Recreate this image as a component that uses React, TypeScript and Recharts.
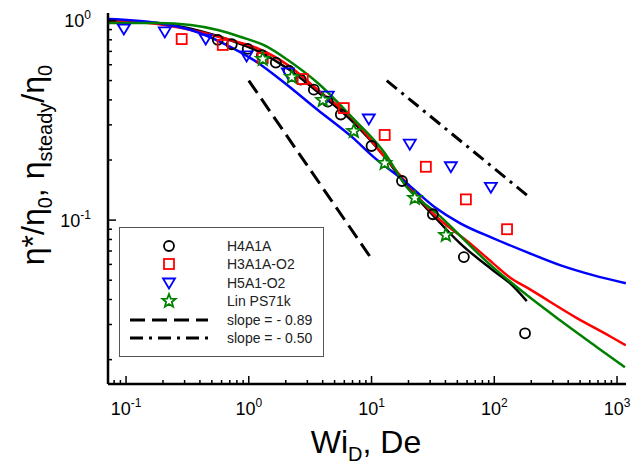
import React from 'react';
import { ComposedChart, Line, Scatter, XAxis, YAxis, Legend } from 'recharts';

// ---------- axis ticks ----------
const xMajorTicks = [0.1, 1, 10, 100, 1000];
const xMajorExponents = ['-1', '0', '1', '2', '3'];
const xMinorTicks = [0.08, 0.09, 0.2, 0.3, 0.4, 0.5, 0.6, 0.7, 0.8, 0.9, 2, 3, 4, 5, 6, 7, 8, 9, 20, 30, 40, 50, 60, 70, 80, 90, 200, 300, 400, 500, 600, 700, 800, 900];
const yMajorTicks = [0.1, 1];
const yMajorExponents = ['-1', '0'];
const yMinorTicks = [0.02, 0.03, 0.04, 0.05, 0.06, 0.07, 0.08, 0.09, 0.2, 0.3, 0.4, 0.5, 0.6, 0.7, 0.8, 0.9];

// ---------- symbols (experimental data) ----------
const h4a1aWi = [0.559, 0.727, 0.98, 1.28, 1.66, 2.12, 2.65, 3.39, 4.4, 5.62, 10.0, 17.7, 31.6, 56.5, 178];
const h4a1aEta = [0.8, 0.76, 0.72, 0.67, 0.615, 0.56, 0.505, 0.45, 0.392, 0.338, 0.235, 0.157, 0.107, 0.0653, 0.0271];

const h3a1aWi = [0.284, 0.614, 1.3, 2.75, 5.94, 12.8, 27.7, 58.7, 127];
const h3a1aEta = [0.807, 0.754, 0.649, 0.509, 0.364, 0.267, 0.185, 0.127, 0.09];

const h5a1Wi = [0.096, 0.207, 0.446, 0.96, 2.08, 4.4, 9.5, 20.5, 44.3, 93.8];
const h5a1Eta = [0.906, 0.876, 0.807, 0.664, 0.546, 0.418, 0.321, 0.24, 0.185, 0.146];

const linWi = [1.3, 2.24, 4.01, 7.17, 12.8, 22.5, 40.3];
const linEta = [0.641, 0.521, 0.399, 0.279, 0.193, 0.129, 0.0841];

// ---------- curves ----------
const blackCurveX = [0.071, 0.181, 0.399, 0.7, 1.23, 2.16, 3.65, 6.91, 12.8, 19.4, 31.6, 52.4, 97.4, 134, 184];
const blackCurveY = [0.994, 0.971, 0.886, 0.798, 0.695, 0.565, 0.438, 0.314, 0.207, 0.148, 0.106, 0.0767, 0.0561, 0.0483, 0.0393];

const redCurveX = [0.071, 0.181, 0.399, 0.614, 1.16, 2.08, 3.65, 6.91, 12.8, 19.4, 31.6, 63.2, 97.4, 134, 188, 471, 875, 1180];
const redCurveY = [1.006, 0.96, 0.876, 0.817, 0.728, 0.598, 0.449, 0.325, 0.207, 0.153, 0.108, 0.0767, 0.0609, 0.0516, 0.0456, 0.0323, 0.0262, 0.0236];

const blueCurveX = [0.071, 0.181, 0.337, 0.614, 1.16, 1.96, 3.65, 6.91, 10.6, 18.0, 32.8, 52.4, 97.4, 184, 343, 636, 1180];
const blueCurveY = [1.017, 0.971, 0.896, 0.771, 0.619, 0.486, 0.356, 0.261, 0.205, 0.159, 0.116, 0.0966, 0.0812, 0.0691, 0.0595, 0.053, 0.0483];

const greenCurveX = [0.071, 0.181, 0.337, 0.559, 0.861, 1.43, 2.08, 3.65, 6.91, 12.8, 19.4, 34.1, 97.4, 184, 343, 686, 1160];
const greenCurveY = [0.971, 0.971, 0.949, 0.896, 0.827, 0.736, 0.634, 0.486, 0.328, 0.217, 0.146, 0.108, 0.0581, 0.0421, 0.0315, 0.0231, 0.0183];

// ---------- guide slopes ----------
const slope089X = [1, 10];
const slope089Y = [0.5, 0.064];
const slope050X = [13.3, 185];
const slope050Y = [0.5, 0.133];

const legendLabels = ['H4A1A', 'H3A1A-O2', 'H5A1-O2', 'Lin PS71k', 'slope = - 0.89', 'slope = - 0.50'];

const zip = (xs: number[], ys: number[]) => xs.map((x, i) => ({ x, y: ys[i] }));

const FONT = '"Liberation Sans", Arial, Helvetica, sans-serif';
const W = 632;
const H = 467;
const PLOT = { left: 108, top: 13, right: 626, bottom: 384 };
const xDomain = [0.0713, 1183];
const yDomain = [0.0151, 1.09];

const xTicks = [...xMajorTicks, ...xMinorTicks].sort((a, b) => a - b);
const yTicks = [...yMajorTicks, ...yMinorTicks].sort((a, b) => a - b);

const BLACK = '#000000';
const RED = '#ff0000';
const BLUE = '#0000ff';
const GREEN = '#008000';

const BottomTick = (p: any) => {
  const v = p.payload.value;
  const i = xMajorTicks.indexOf(v);
  const len = i >= 0 ? 8 : 4;
  return (
    <g>
      <line x1={p.x} x2={p.x} y1={PLOT.bottom} y2={PLOT.bottom - len} stroke="#000" strokeWidth={1.5} />
      {i >= 0 && (
        <text x={p.x} y={PLOT.bottom + 31} textAnchor="middle" fontSize={18} fill="#000" fontFamily={FONT}>
          10<tspan dy={-8} fontSize={12}>{xMajorExponents[i]}</tspan>
        </text>
      )}
    </g>
  );
};

const TopTick = (p: any) => {
  const v = p.payload.value;
  const len = xMajorTicks.indexOf(v) >= 0 ? 8 : 4;
  return <line x1={p.x} x2={p.x} y1={PLOT.top} y2={PLOT.top + len} stroke="#000" strokeWidth={1.5} />;
};

const LeftTick = (p: any) => {
  const v = p.payload.value;
  const i = yMajorTicks.indexOf(v);
  const len = i >= 0 ? 8 : 4;
  return (
    <g>
      <line x1={PLOT.left} x2={PLOT.left + len} y1={p.y} y2={p.y} stroke="#000" strokeWidth={1.5} />
      {i >= 0 && (
        <text x={91} y={p.y + 7} textAnchor="end" fontSize={18} fill="#000" fontFamily={FONT}>
          10<tspan dy={-8} fontSize={12}>{yMajorExponents[i]}</tspan>
        </text>
      )}
    </g>
  );
};

const RightTick = (p: any) => {
  const v = p.payload.value;
  const len = yMajorTicks.indexOf(v) >= 0 ? 8 : 4;
  return <line x1={PLOT.right} x2={PLOT.right - len} y1={p.y} y2={p.y} stroke="#000" strokeWidth={1.5} />;
};

const starPath = (cx: number, cy: number, R: number, r: number) => {
  let d = '';
  for (let k = 0; k < 10; k++) {
    const ang = -Math.PI / 2 + (k * Math.PI) / 5;
    const rad = k % 2 === 0 ? R : r;
    d += (k === 0 ? 'M' : 'L') + (cx + rad * Math.cos(ang)).toFixed(2) + ',' + (cy + rad * Math.sin(ang)).toFixed(2);
  }
  return d + 'Z';
};

const CircleMark = (cx: number, cy: number) => <circle cx={cx} cy={cy} r={5} fill="none" stroke={BLACK} strokeWidth={1.8} />;
const SquareMark = (cx: number, cy: number) => <rect x={cx - 5} y={cy - 5} width={10} height={10} fill="none" stroke={RED} strokeWidth={1.8} />;
const TriMark = (cx: number, cy: number) => (
  <polygon points={`${cx - 6},${cy - 4.5} ${cx + 6},${cy - 4.5} ${cx},${cy + 5.5}`} fill="none" stroke={BLUE} strokeWidth={1.8} />
);
const StarMark = (cx: number, cy: number) => <path d={starPath(cx, cy, 7, 3)} fill="#fff" stroke={GREEN} strokeWidth={1.8} strokeLinejoin="miter" />;

const shapeOf = (fn: (cx: number, cy: number) => any) => (props: any) => fn(props.cx, props.cy);

const LegendBox = () => {
  const rows = [19, 37, 56, 74, 93, 111];
  const mx = 49;
  const tx = 107;
  return (
    <div style={{ width: 205, height: 130, border: '1px solid #555', boxSizing: 'border-box', background: '#fff' }}>
      <svg width={203} height={128} style={{ display: 'block' }}>
        {CircleMark(mx, rows[0] - 1)}
        {SquareMark(mx, rows[1] - 1)}
        {TriMark(mx, rows[2] - 1)}
        {StarMark(mx, rows[3] - 1)}
        <line x1={10} x2={88} y1={rows[4] - 1} y2={rows[4] - 1} stroke="#000" strokeWidth={3} strokeDasharray="15 7" />
        <line x1={10} x2={88} y1={rows[5] - 1} y2={rows[5] - 1} stroke="#000" strokeWidth={3} strokeDasharray="13 6 3 6" />
        {legendLabels.map((t, i) => (
          <text key={t} x={tx} y={rows[i] + 4} fontSize={14} fill="#222" fontFamily={FONT}>
            {t}
          </text>
        ))}
      </svg>
    </div>
  );
};

const YTitle = () => (
  <text
    transform={`translate(44, 165) rotate(-90)`}
    textAnchor="middle"
    fontSize={32}
    fill="#000"
    fontFamily={FONT}
  >
    η*/η<tspan dy={8} fontSize={20}>0</tspan>
    <tspan dy={-8}>, η</tspan>
    <tspan dy={8} fontSize={20}>steady</tspan>
    <tspan dy={-8}>/η</tspan>
    <tspan dy={8} fontSize={20}>0</tspan>
  </text>
);

const XTitle = () => (
  <text x={366} y={453} textAnchor="middle" fontSize={32} fill="#000" fontFamily={FONT}>
    Wi<tspan dy={8} fontSize={20}>D</tspan>
    <tspan dy={-8}>, De</tspan>
  </text>
);

export default function App() {
  return (
    <div style={{ position: 'absolute', left: 0, top: 0, width: W, height: H, background: '#fff' }}>
      <ComposedChart width={W} height={H} margin={{ top: 13, right: 6, left: 0, bottom: 0 }}>
        <XAxis
          xAxisId="b"
          type="number"
          dataKey="x"
          scale="log"
          domain={xDomain}
          allowDataOverflow
          ticks={xTicks}
          interval={0}
          height={83}
          tickSize={0}
          tickMargin={0}
          tick={BottomTick}
          axisLine={{ stroke: '#000', strokeWidth: 2.5 }}
          tickLine={false}
          orientation="bottom"
          label={{ content: () => <XTitle /> }}
        />
        <XAxis
          xAxisId="t"
          type="number"
          dataKey="x"
          scale="log"
          domain={xDomain}
          allowDataOverflow
          ticks={xTicks}
          interval={0}
          height={0}
          tickSize={0}
          tickMargin={0}
          tick={TopTick}
          axisLine={{ stroke: '#000', strokeWidth: 2.5 }}
          tickLine={false}
          orientation="top"
        />
        <YAxis
          yAxisId="l"
          type="number"
          dataKey="y"
          scale="log"
          domain={yDomain}
          allowDataOverflow
          ticks={yTicks}
          interval={0}
          width={108}
          tickSize={0}
          tickMargin={0}
          tick={LeftTick}
          axisLine={{ stroke: '#000', strokeWidth: 2.5 }}
          tickLine={false}
          orientation="left"
          label={{ content: () => <YTitle /> }}
        />
        <YAxis
          yAxisId="r"
          type="number"
          dataKey="y"
          scale="log"
          domain={yDomain}
          allowDataOverflow
          ticks={yTicks}
          interval={0}
          width={0}
          tickSize={0}
          tickMargin={0}
          tick={RightTick}
          axisLine={{ stroke: '#000', strokeWidth: 2.5 }}
          tickLine={false}
          orientation="right"
        />
        <Legend
          verticalAlign="middle"
          align="center"
          layout="horizontal"
          content={() => <LegendBox />}
          wrapperStyle={{ left: 119, top: 227, width: 205, height: 130 }}
        />

        <Line xAxisId="b" yAxisId="l" data={zip(blackCurveX, blackCurveY)} dataKey="y" type="monotone" stroke={BLACK} strokeWidth={2.5} dot={false} activeDot={false} isAnimationActive={false} legendType="none" />
        <Line xAxisId="b" yAxisId="l" data={zip(redCurveX, redCurveY)} dataKey="y" type="monotone" stroke={RED} strokeWidth={2.5} dot={false} activeDot={false} isAnimationActive={false} legendType="none" />
        <Line xAxisId="b" yAxisId="l" data={zip(blueCurveX, blueCurveY)} dataKey="y" type="monotone" stroke={BLUE} strokeWidth={2.5} dot={false} activeDot={false} isAnimationActive={false} legendType="none" />
        <Line xAxisId="b" yAxisId="l" data={zip(greenCurveX, greenCurveY)} dataKey="y" type="monotone" stroke={GREEN} strokeWidth={2.5} dot={false} activeDot={false} isAnimationActive={false} legendType="none" />
        <Line xAxisId="b" yAxisId="l" data={zip(slope089X, slope089Y)} dataKey="y" type="linear" stroke="#000" strokeWidth={3} strokeDasharray="15 7" dot={false} activeDot={false} isAnimationActive={false} legendType="none" />
        <Line xAxisId="b" yAxisId="l" data={zip(slope050X, slope050Y)} dataKey="y" type="linear" stroke="#000" strokeWidth={3} strokeDasharray="13 6 3 6" dot={false} activeDot={false} isAnimationActive={false} legendType="none" />

        <Scatter xAxisId="b" yAxisId="l" data={zip(h4a1aWi, h4a1aEta)} dataKey="y" shape={shapeOf(CircleMark)} isAnimationActive={false} legendType="none" />
        <Scatter xAxisId="b" yAxisId="l" data={zip(h3a1aWi, h3a1aEta)} dataKey="y" shape={shapeOf(SquareMark)} isAnimationActive={false} legendType="none" />
        <Scatter xAxisId="b" yAxisId="l" data={zip(h5a1Wi, h5a1Eta)} dataKey="y" shape={shapeOf(TriMark)} isAnimationActive={false} legendType="none" />
        <Scatter xAxisId="b" yAxisId="l" data={zip(linWi, linEta)} dataKey="y" shape={shapeOf(StarMark)} isAnimationActive={false} legendType="none" />
      </ComposedChart>
    </div>
  );
}
